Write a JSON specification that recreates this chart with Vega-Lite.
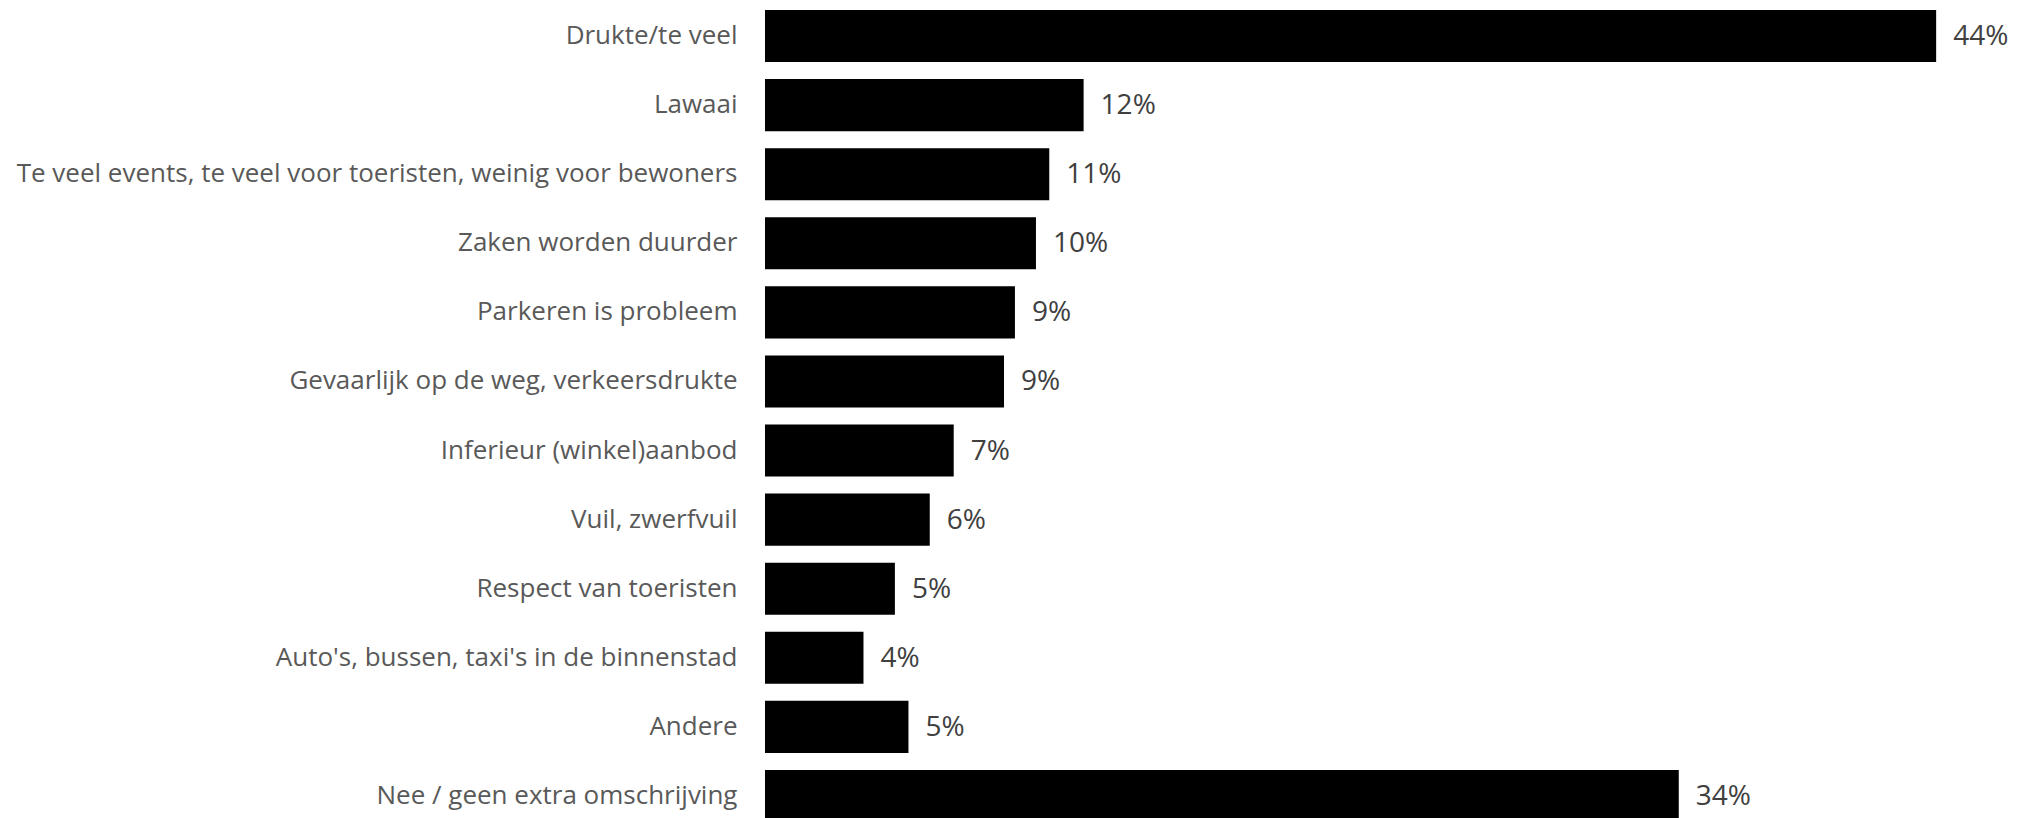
{
  "$schema": "https://vega.github.io/schema/vega-lite/v6.json",
  "autosize": {"type": "none"},
  "width": 1251,
  "height": 808,
  "padding": {"left": 765, "top": 10, "right": 0, "bottom": 0},
  "background": "white",
  "config": {"view": {"stroke": null}},
  "data": {"values": [
    {"category": "Drukte/te veel", "value": 0.44},
    {"category": "Lawaai", "value": 0.1197},
    {"category": "Te veel events, te veel voor toeristen, weinig voor bewoners", "value": 0.1068},
    {"category": "Zaken worden duurder", "value": 0.1018},
    {"category": "Parkeren is probleem", "value": 0.0939},
    {"category": "Gevaarlijk op de weg, verkeersdrukte", "value": 0.0898},
    {"category": "Inferieur (winkel)aanbod", "value": 0.0709},
    {"category": "Vuil, zwerfvuil", "value": 0.0619},
    {"category": "Respect van toeristen", "value": 0.0488},
    {"category": "Auto's, bussen, taxi's in de binnenstad", "value": 0.037},
    {"category": "Andere", "value": 0.0539},
    {"category": "Nee / geen extra omschrijving", "value": 0.3433}
  ]},
  "encoding": {
    "y": {
      "field": "category", "type": "nominal", "sort": null, "title": null,
      "scale": {"paddingInner": 0.246, "paddingOuter": 0, "range": [0, 812]},
      "axis": {"domain": false, "ticks": false, "labelPadding": 28, "labelFont": "Open Sans", "labelFontSize": 26, "labelColor": "#595959", "labelLimit": 800}
    },
    "x": {
      "field": "value", "type": "quantitative",
      "scale": {"domain": [0, 0.47], "nice": false},
      "axis": null
    }
  },
  "layer": [
    {"mark": {"type": "bar", "color": "#000000"}},
    {"mark": {"type": "text", "align": "left", "baseline": "middle", "dx": 17, "dy": 1, "font": "Open Sans", "fontSize": 28, "color": "#404040"},
     "encoding": {"text": {"field": "value", "type": "quantitative", "format": ".0%"}}}
  ]
}
